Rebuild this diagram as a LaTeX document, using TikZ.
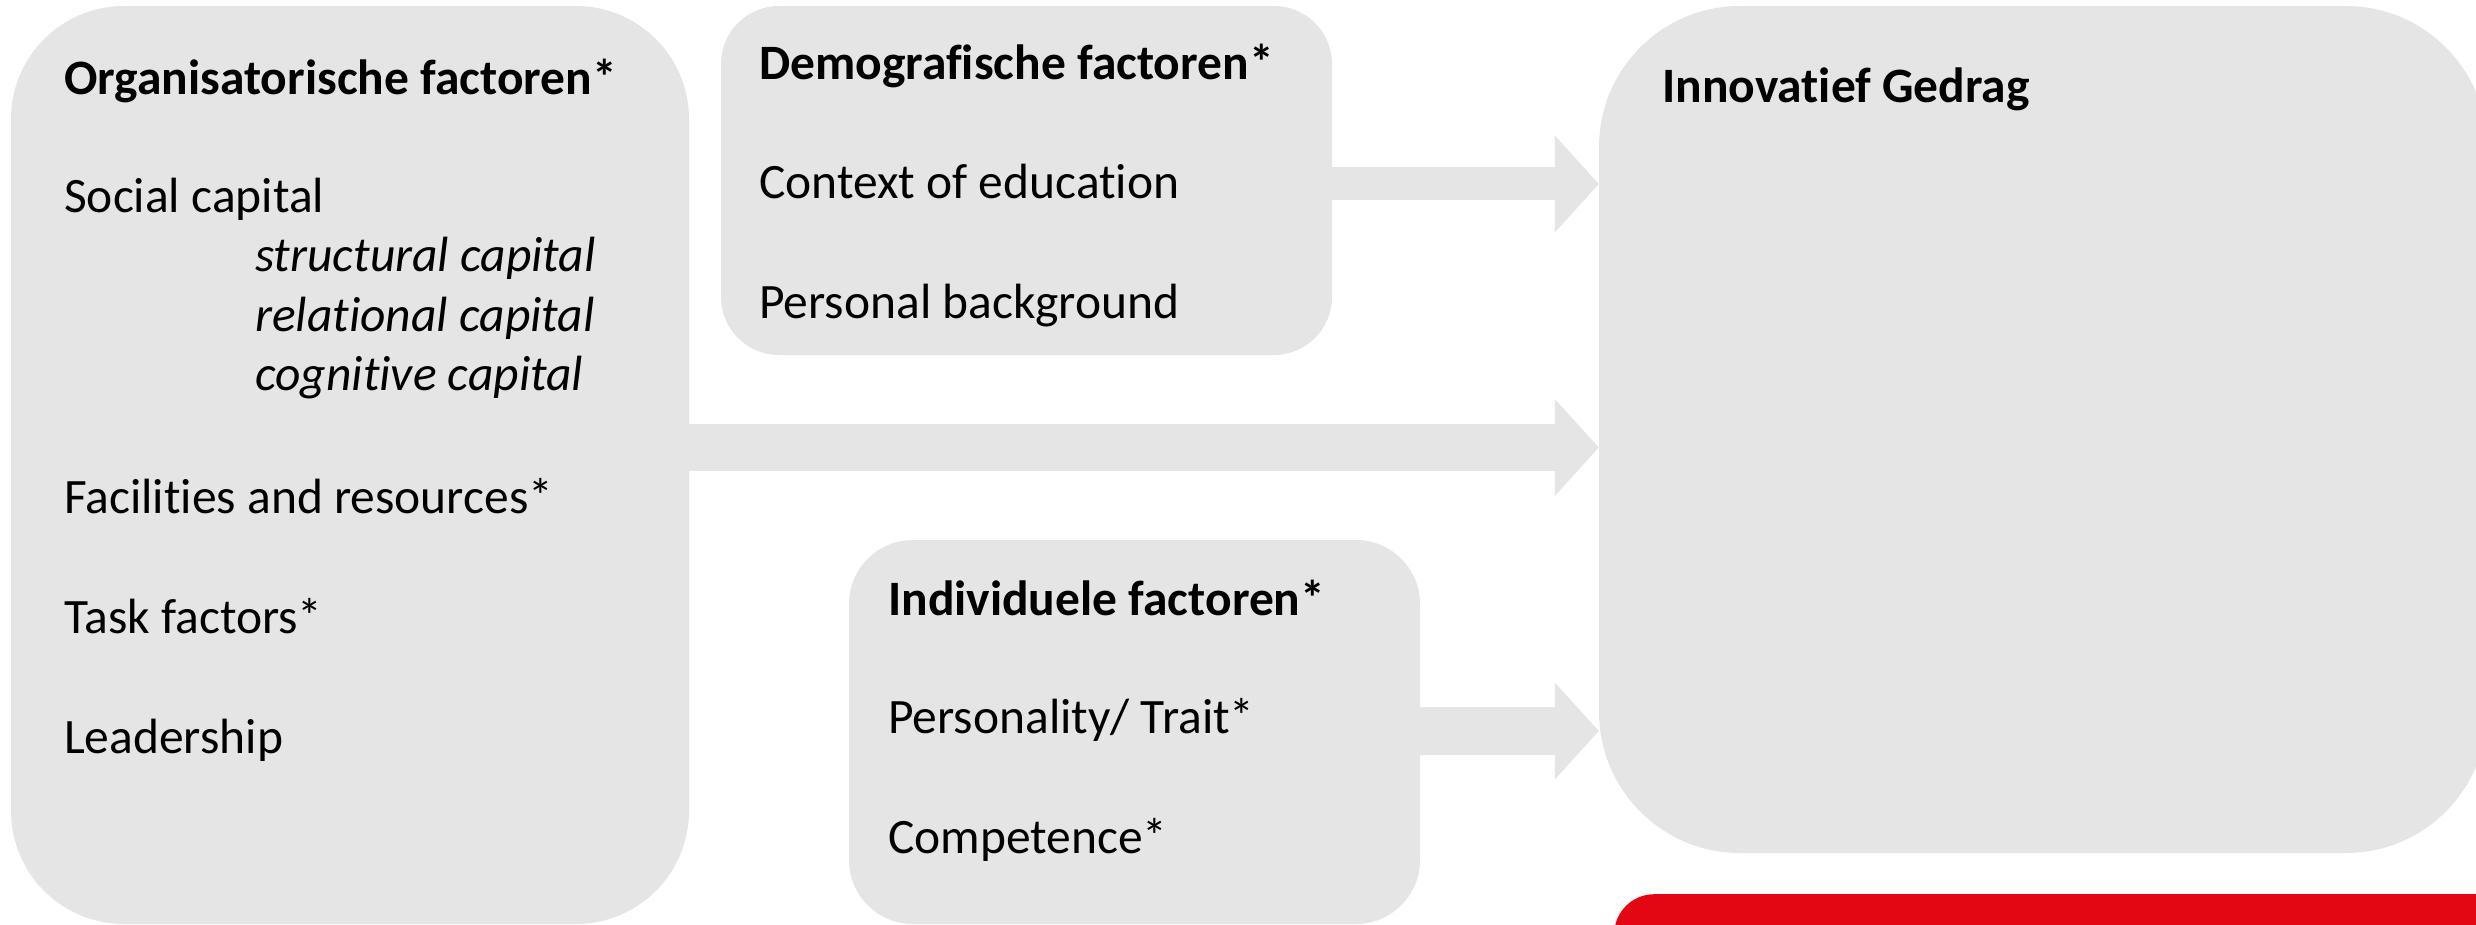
\documentclass[tikz,border=0pt]{standalone}
\usepackage{fontspec}
\setmainfont[Ligatures=NoCommon]{Carlito}
\usepackage{tikz}
\usetikzlibrary{arrows.meta}

\definecolor{boxgrey}{RGB}{229,229,229}
\definecolor{barred}{RGB}{227,6,19}

\begin{document}
\begin{tikzpicture}[x=1pt,y=-1pt,
    font=\fontsize{49.5pt}{60pt}\selectfont,
    panel/.style={fill=boxgrey, draw=none, inner sep=0pt},
    txt/.style={anchor=base west, inner sep=0pt},
    fatarrow/.style={draw=boxgrey, line width=#1, -{Triangle[length=44pt, width=97pt, line width=0pt]}}]
      \useasboundingbox (0,0) rectangle (2476,925);

      % Boxes
      \node[panel, rounded corners=113pt, minimum width=678pt, minimum height=918pt] (org) at (350,465) {};
      \node[panel, rounded corners=58pt, minimum width=611pt, minimum height=349pt] (demo) at (1026.5,180.5) {};
      \node[panel, rounded corners=64pt, minimum width=571pt, minimum height=384pt] (indiv) at (1134.5,732) {};
      \node[panel, rounded corners=141pt, minimum width=888pt, minimum height=847pt] (gedrag) at (2043,429.5) {};
      \node[panel, fill=barred, rounded corners=40pt, minimum width=1000pt, minimum height=240pt, anchor=north west] (bar) at (1614,894) {};

      % Arrows
      \draw[fatarrow=33pt] (demo.east |- 0,184) -- (gedrag.west |- 0,184);
      \draw[fatarrow=47pt] (org.east |- 0,447.5) -- (gedrag.west |- 0,447.5);
      \draw[fatarrow=48pt] (indiv.east |- 0,731) -- (gedrag.west |- 0,731);

      % Organisatorische factoren
      \node[txt] (orgtitle) at (64,95) {\textbf{Organisatorische factoren*}};
      \node[txt] (social) at (64,213) {Social capital};
      \node[txt] (struct) at (255,272) {\textit{structural capital}};
      \node[txt] (relat) at (255,331) {\textit{relational capital}};
      \node[txt] (cogn) at (255,390) {\textit{cognitive capital}};
      \node[txt] (facil) at (64,513) {Facilities and resources*};
      \node[txt] (task) at (64,633) {Task factors*};
      \node[txt] (lead) at (64,753) {Leadership};

      % Demografische factoren
      \node[txt] (demotitle) at (759,80) {\textbf{Demografische factoren*}};
      \node[txt] (context) at (759,199) {Context of education};
      \node[txt] (backgr) at (759,318) {Personal background};

      % Individuele factoren
      \node[txt] (indivtitle) at (888,615) {\textbf{Individuele factoren*}};
      \node[txt] (trait) at (888,733) {Personality/ Trait*};
      \node[txt] (compet) at (888,853) {Competence*};

      % Innovatief gedrag
      \node[txt] (gedragtitle) at (1662,103) {\textbf{Innovatief Gedrag}};

    \end{tikzpicture}
\end{document}
